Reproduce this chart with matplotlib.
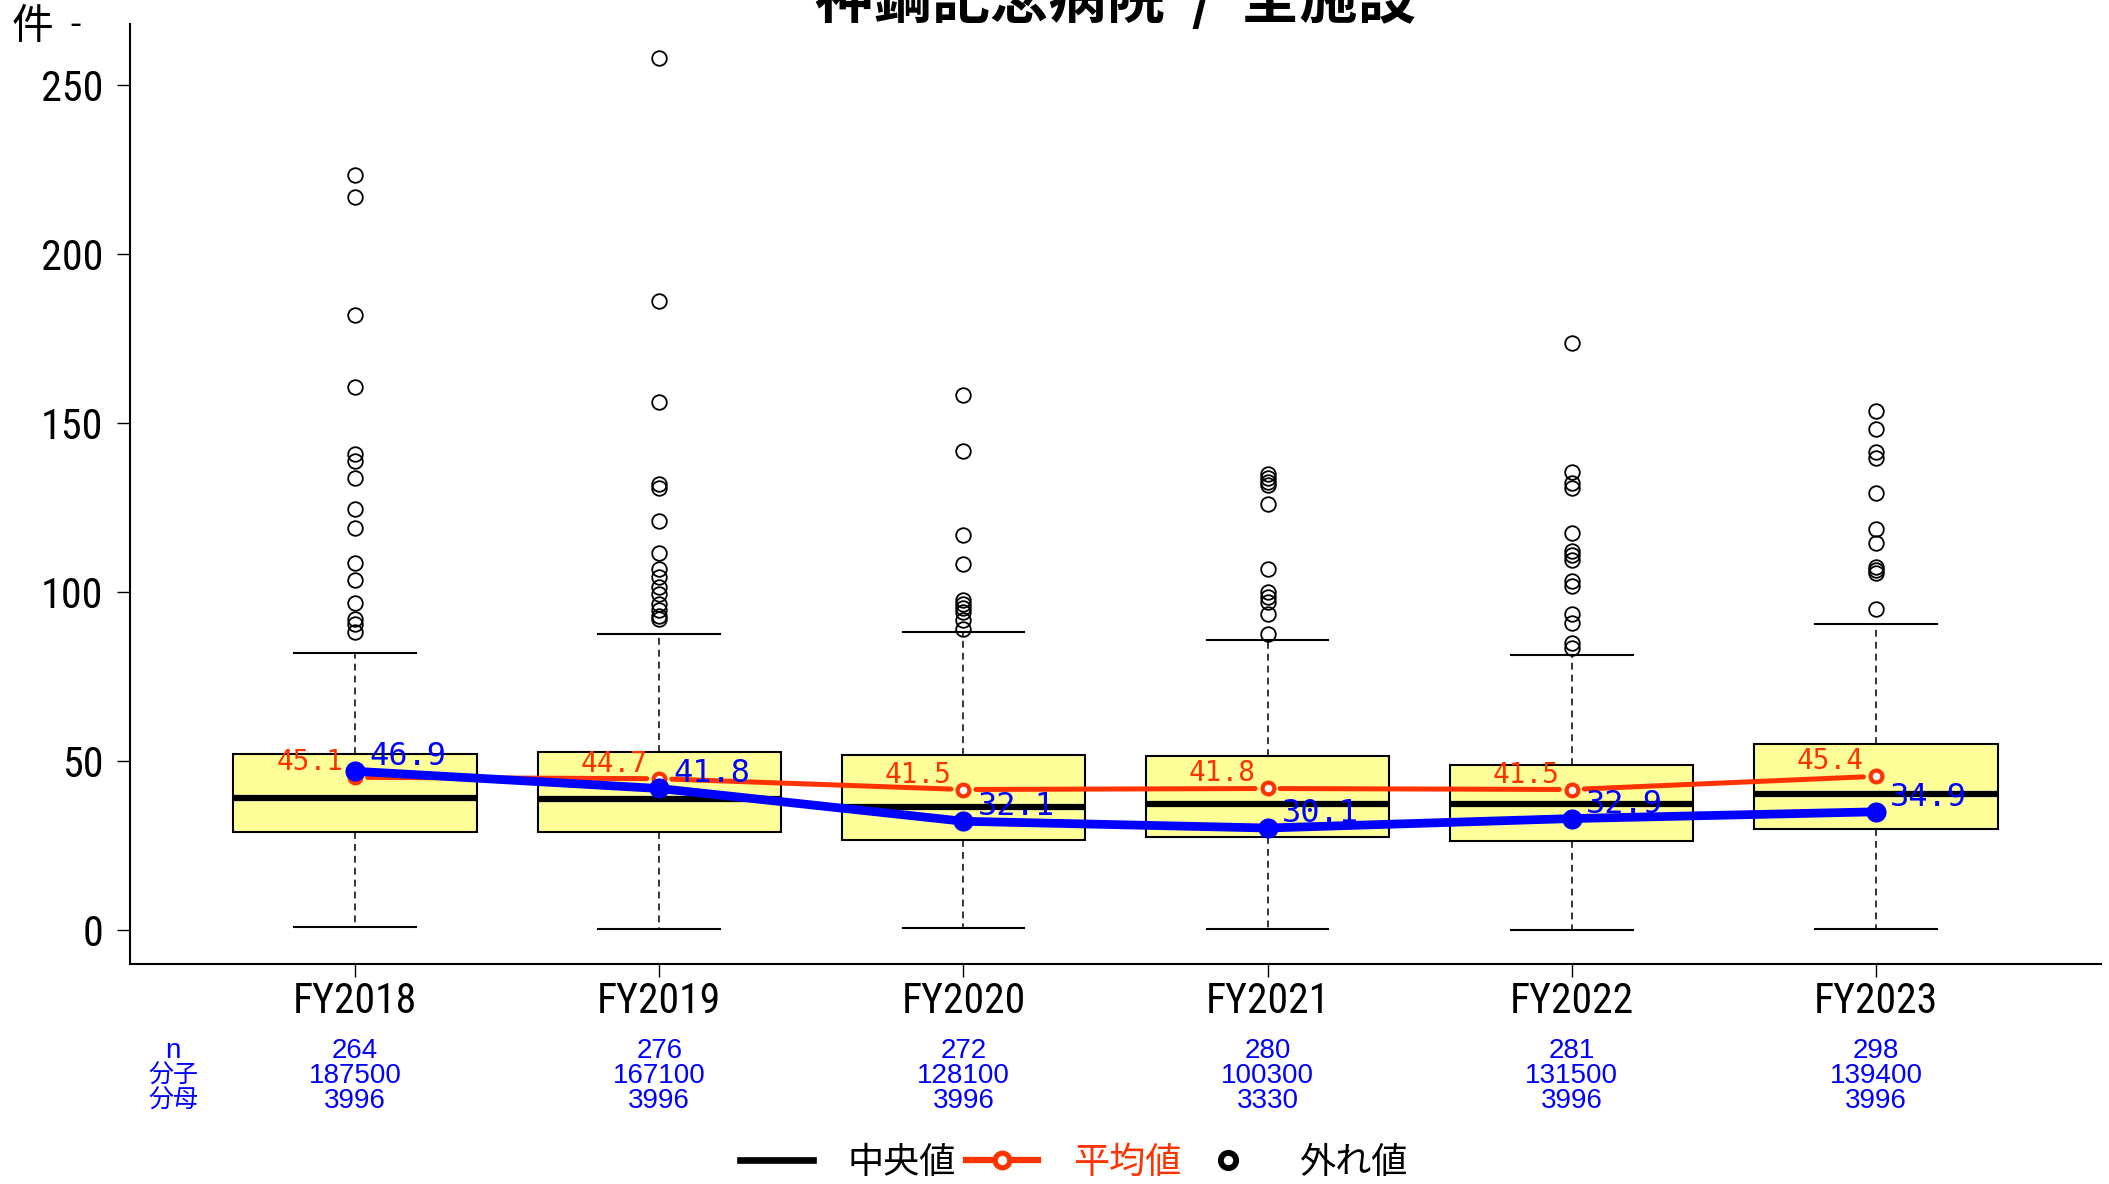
import matplotlib
matplotlib.use('Agg')
import matplotlib.pyplot as plt
from matplotlib.lines import Line2D
import matplotlib.transforms as mtrans
from matplotlib import font_manager as fm
from matplotlib.textpath import TextToPath
import math

# ---------------- data ----------------
years = ['FY2018', 'FY2019', 'FY2020', 'FY2021', 'FY2022', 'FY2023']
n_count = [264, 276, 272, 280, 281, 298]
numer = [187500, 167100, 128100, 100300, 131500, 139400]
denom = [3996, 3996, 3996, 3330, 3996, 3996]
hosp_vals = [46.9, 41.8, 32.1, 30.1, 32.9, 34.9]
mean_vals = [45.1, 44.7, 41.5, 41.8, 41.5, 45.4]
q1_vals = [28.9, 28.8, 26.6, 27.5, 26.4, 29.9]
med_vals = [39.1, 38.6, 36.4, 37.1, 37.3, 40.1]
q3_vals = [52.0, 52.5, 51.6, 51.4, 48.7, 55.1]
wlo_vals = [0.8, 0.2, 0.4, 0.3, 0.0, 0.3]
whi_vals = [81.9, 87.5, 88.1, 85.8, 81.2, 90.4]
outliers = [
    [223.4, 216.8, 181.9, 160.6, 140.8, 138.8, 133.6, 124.6, 118.9, 108.6, 103.6, 96.6, 92.1, 90.5, 88.1],
    [257.9, 186.1, 156.2, 132.0, 130.7, 120.9, 111.4, 106.7, 104.4, 101.5, 99.4, 96.5, 94.5, 93.0, 92.1],
    [158.3, 141.8, 116.8, 108.3, 97.6, 96.4, 95.1, 93.9, 91.7, 89.0],
    [134.9, 133.6, 132.6, 131.7, 125.9, 106.8, 100.1, 98.6, 97.1, 93.5, 87.5],
    [173.6, 135.6, 132.1, 130.7, 117.3, 112.2, 110.9, 109.4, 103.3, 101.7, 93.5, 90.7, 84.8, 83.3],
    [153.4, 148.3, 141.5, 139.5, 129.2, 118.6, 114.4, 107.3, 106.5, 105.5, 94.8],
]
yticks = [0, 50, 100, 150, 200, 250]
title = '神鋼記念病院  /  全施設'
row_labels = ['n', '分子', '分母']
legend_labels = ['中央値', '平均値', '外れ値']

# ---------------- style ----------------
RED = '#FF3300'
BLUE = '#0000FF'
FILL = '#FFFF99'
SANS = ['Liberation Sans', 'DejaVu Sans']
CJK = ['Noto Sans CJK JP', 'DejaVu Sans']
MONO = ['DejaVu Sans Mono']

# pick a narrow sans if one is installed
_names = {f.name for f in fm.fontManager.ttflist}
NARROW_KW = None
for c in ['Liberation Sans Narrow', 'Roboto Condensed', 'Open Sans Condensed',
          'Noto Sans Condensed', 'Arial Narrow', 'DejaVu Sans Condensed']:
    if c in _names:
        NARROW_KW = {'family': [c, 'DejaVu Sans']}
        break
if NARROW_KW is None:
    for f in fm.fontManager.ttflist:
        if f.name in ('Noto Sans', 'Open Sans', 'Roboto', 'DejaVu Sans', 'Lato', 'Inter') \
                and str(f.stretch) in ('condensed', 'semi-condensed') and f.style == 'normal':
            NARROW_KW = {'family': [f.name], 'stretch': str(f.stretch)}
            break
if NARROW_KW is None:
    NARROW_KW = {'family': SANS}

_t2p = TextToPath()


def fit_size(s, kw, target_w, target_cap):
    prop = fm.FontProperties(size=100, **kw)
    w, h, d = _t2p.get_text_width_height_descent(s, prop, ismath=False)
    sw = target_w * 72.0 / w
    sh = target_cap * 72.0 / max(h - d, 1e-6)
    return math.sqrt(sw * sh)


FS_X = fit_size('FY2018', NARROW_KW, 124, 30)
FS_Y = fit_size('250', NARROW_KW, 61, 31)
FS_RED = fit_size('45.1', {'family': MONO}, 63, 21.5)
FS_BLUE = fit_size('46.9', {'family': MONO}, 73.5, 25)

W, H = 2109, 1184
fig = plt.figure(figsize=(W / 100, H / 100), dpi=100)
ax = fig.add_axes([130 / W, (H - 964) / H, (2101 - 130) / W, (964 - 24) / H])

pos = list(range(1, len(years) + 1))
stats = []
for i in range(len(years)):
    stats.append(dict(med=med_vals[i], q1=q1_vals[i], q3=q3_vals[i],
                      whislo=wlo_vals[i], whishi=whi_vals[i],
                      fliers=outliers[i], label=years[i]))

ax.bxp(stats, positions=pos, widths=0.8, capwidths=0.4, patch_artist=True,
       boxprops=dict(facecolor=FILL, edgecolor='black', linewidth=1.5),
       medianprops=dict(color='black', linewidth=4.5, solid_capstyle='butt'),
       whiskerprops=dict(color='black', linewidth=1.1, linestyle=(0, (4.5, 3.3))),
       capprops=dict(color='black', linewidth=1.5),
       flierprops=dict(marker='o', markerfacecolor='none', markeredgecolor='black',
                       markersize=10.5, markeredgewidth=1.3))

# mean line (type "b": gaps around points)
for i in range(len(pos) - 1):
    ax.annotate('', xy=(pos[i + 1], mean_vals[i + 1]), xytext=(pos[i], mean_vals[i]),
                arrowprops=dict(arrowstyle='-', color=RED, lw=3.6,
                                shrinkA=9, shrinkB=9), zorder=3)
ax.plot(pos, mean_vals, linestyle='none', marker='o', ms=8.5, mfc='white',
        mec=RED, mew=3.0, zorder=3.2)

# hospital line
ax.plot(pos, hosp_vals, '-o', color=BLUE, lw=6.3, ms=14.5, mew=0, zorder=4)

for x, v in zip(pos, mean_vals):
    ax.annotate(f'{v:.1f}', (x, v), xytext=(-12, 7), textcoords='offset pixels',
                ha='right', va='baseline', color=RED, fontsize=FS_RED, family=MONO, zorder=5)
for x, v in zip(pos, hosp_vals):
    ax.annotate(f'{v:.1f}', (x, v), xytext=(14, 6), textcoords='offset pixels',
                ha='left', va='baseline', color=BLUE, fontsize=FS_BLUE, family=MONO, zorder=5)

# axes
ax.set_xlim(0.26, 6.74)
ax.set_ylim(-10.15, 268.1)
ax.set_xticks(pos)
ax.set_xticklabels(years, fontsize=FS_X, **NARROW_KW)
ax.set_yticks(yticks)
ax.set_yticklabels([str(t) for t in yticks], fontsize=FS_Y, **NARROW_KW)
ax.tick_params(axis='x', length=9.4, width=1.0, pad=3)
ax.tick_params(axis='y', length=9.4, width=1.0, pad=10)
for s in ['top', 'right']:
    ax.spines[s].set_visible(False)
for s in ['left', 'bottom']:
    ax.spines[s].set_linewidth(1.5)

# count rows under the axis
tr = mtrans.blended_transform_factory(ax.transData, fig.transFigure)
row_y = [1 - 1051 / H, 1 - 1076 / H, 1 - 1101 / H]
for x, a, b, c in zip(pos, n_count, numer, denom):
    for yy, val in zip(row_y, [a, b, c]):
        ax.text(x, yy, str(val), transform=tr, ha='center', va='center',
                color=BLUE, fontsize=20, family=SANS, clip_on=False)
for yy, lab in zip(row_y, row_labels):
    ax.text(0.402, yy, lab, transform=tr, ha='center', va='center',
            color=BLUE, fontsize=18 if lab != 'n' else 20,
            family=CJK if lab != 'n' else SANS, clip_on=False)

# title and unit
fig.text((130 + 2101) / 2 / W, 1 - 18 / H, title, ha='center', va='baseline',
         fontsize=42, fontweight='bold', family=CJK)
fig.text(12 / W, 1 - 27 / H, '件', ha='left', va='center', fontsize=30, family=CJK)
fig.text(75 / W, 1 - 25 / H, '-', ha='center', va='center', fontsize=26, family=SANS)

# legend
handles = [
    Line2D([], [], color='black', lw=4.8),
    Line2D([], [], color=RED, lw=4.5, marker='o', ms=10.5, mfc='white', mec=RED, mew=3.8),
    Line2D([], [], color='black', lw=0, marker='o', ms=11, mfc='none', mec='black', mew=4.2),
]
leg = fig.legend(handles, legend_labels, loc='center',
                 bbox_to_anchor=(1074 / W, 1 - 1163 / H), ncol=3, frameon=False,
                 prop={'family': CJK, 'size': 26}, handlelength=2.0,
                 handletextpad=0.97, columnspacing=0.28, borderpad=0, borderaxespad=0)
leg.get_texts()[1].set_color(RED)

fig.savefig('out.png', dpi=100)
